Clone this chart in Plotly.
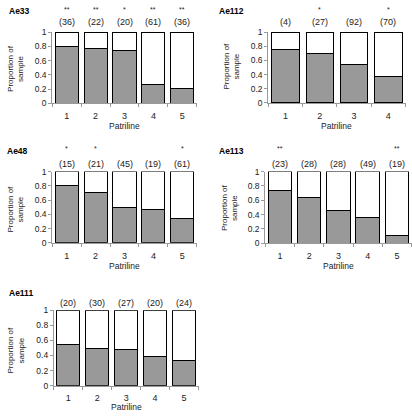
import plotly.graph_objects as go

W, H = 412, 417

# ---- data ----
titles = ["Ae33", "Ae112", "Ae48", "Ae113", "Ae111"]
ae33_vals = [0.80, 0.77, 0.74, 0.27, 0.21]
ae33_n = [36, 22, 20, 61, 36]
ae33_sig = ["**", "**", "*", "**", "**"]
ae112_vals = [0.75, 0.70, 0.54, 0.37]
ae112_n = [4, 27, 92, 70]
ae112_sig = ["", "*", "", "*"]
ae48_vals = [0.80, 0.71, 0.49, 0.47, 0.34]
ae48_n = [15, 21, 45, 19, 61]
ae48_sig = ["*", "*", "", "", "*"]
ae113_vals = [0.73, 0.64, 0.46, 0.36, 0.10]
ae113_n = [23, 28, 28, 49, 19]
ae113_sig = ["**", "", "", "", "**"]
ae111_vals = [0.54, 0.49, 0.48, 0.39, 0.33]
ae111_n = [20, 30, 27, 20, 24]
ae111_sig = ["", "", "", "", ""]

values = [ae33_vals, ae112_vals, ae48_vals, ae113_vals, ae111_vals]
counts = [ae33_n, ae112_n, ae48_n, ae113_n, ae111_n]
sigs = [ae33_sig, ae112_sig, ae48_sig, ae113_sig, ae111_sig]

# ---- layout geometry (pixels) ----
panels = [
    dict(x0=52.3, x1=196.7, yb=100.7, yt=27.7, tx=6.5, ty=6, ytx=15.5, yty=65, ny=17.3, sy=5, py=124),
    dict(x0=268.3, x1=405.5, yb=100.3, yt=27.7, tx=216.5, ty=6, ytx=231, yty=63, ny=17.3, sy=5, py=124),
    dict(x0=52.3, x1=196.7, yb=243.7, yt=170.7, tx=4.5, ty=150, ytx=15.5, yty=209, ny=162.7, sy=147.5, py=267.5),
    dict(x0=265.3, x1=411.5, yb=244, yt=170.7, tx=216.5, ty=150, ytx=229, yty=208, ny=162.7, sy=147.5, py=267.5),
    dict(x0=53.9, x1=198.5, yb=390, yt=312.7, tx=6.5, ty=295, ytx=16, yty=353, ny=305, sy=None, py=412),
]

GRAY = "#999999"
AXIS = "#9a9a9a"
FONT = "Liberation Sans, Arial, sans-serif"

def fx(p):
    return p / W

def fy(p):
    return 1 - p / H

fig = go.Figure()
annotations = []
layout = {}

for i, (t, v, n, s, g) in enumerate(zip(titles, values, counts, sigs, panels)):
    k = "" if i == 0 else str(i + 1)
    xa, ya = "x" + k, "y" + k
    cats = list(range(1, len(v) + 1))
    rest = [1 - a for a in v]
    fig.add_trace(go.Bar(x=cats, y=v, xaxis=xa, yaxis=ya, width=0.8,
                         marker=dict(color=GRAY, line=dict(color="black", width=1)),
                         cliponaxis=False, hoverinfo="skip"))
    fig.add_trace(go.Bar(x=cats, y=rest, xaxis=xa, yaxis=ya, width=0.8,
                         marker=dict(color="white", line=dict(color="black", width=1)),
                         cliponaxis=False, hoverinfo="skip"))
    layout["xaxis" + k] = dict(
        domain=[fx(g["x0"]), fx(g["x1"])], anchor=ya, range=[0.5, len(v) + 0.5],
        tickvals=cats, ticktext=[str(c) for c in cats], ticks="outside", ticklen=4,
        tickcolor="rgba(0,0,0,0)", showline=True, linecolor=AXIS, linewidth=1,
        showgrid=False, zeroline=False, fixedrange=True,
        tickfont=dict(family=FONT, size=9, color="#222"),
        minor=dict(tickvals=[c + 0.5 for c in range(0, len(v) + 1)], ticks="outside",
                   ticklen=3, tickcolor=AXIS, tickwidth=1, showgrid=False),
    )
    layout["yaxis" + k] = dict(
        domain=[fy(g["yb"]), fy(g["yt"])], anchor=xa, range=[0, 1],
        tickvals=[0, 0.2, 0.4, 0.6, 0.8, 1], ticktext=["0", "0.2", "0.4", "0.6", "0.8", "1"],
        ticks="outside", ticklen=3, tickcolor=AXIS, showline=True, linecolor=AXIS,
        linewidth=1, showgrid=False, zeroline=False, fixedrange=True,
        tickfont=dict(family=FONT, size=8.5, color="#222"),
    )
    annotations.append(dict(text="<b>" + t + "</b>", xref="paper", yref="paper",
                            x=fx(g["tx"]), y=fy(g["ty"]), xanchor="left", yanchor="middle",
                            showarrow=False, font=dict(family=FONT, size=8.5, color="black")))
    annotations.append(dict(text="Proportion of<br>sample", xref="paper", yref="paper",
                            x=fx(g["ytx"]), y=fy(g["yty"]), xanchor="center", yanchor="middle",
                            textangle=-90, showarrow=False,
                            font=dict(family=FONT, size=8, color="#222")))
    annotations.append(dict(text="Patriline", xref="paper", yref="paper",
                            x=fx((g["x0"] + g["x1"]) / 2), y=fy(g["py"]), xanchor="center",
                            yanchor="middle", showarrow=False,
                            font=dict(family=FONT, size=8.5, color="#222")))
    for c, nn, ss in zip(cats, n, s):
        annotations.append(dict(text="(%d)" % nn, xref=xa, yref="paper", x=c, y=fy(g["ny"]),
                                xanchor="center", yanchor="middle", showarrow=False,
                                font=dict(family=FONT, size=9, color="#222")))
        if ss and g["sy"] is not None:
            annotations.append(dict(text=ss, xref=xa, yref="paper", x=c, y=fy(g["sy"]),
                                    xanchor="center", yanchor="middle", showarrow=False,
                                    font=dict(family=FONT, size=7, color="#222")))

fig.update_layout(
    width=W, height=H, margin=dict(l=0, r=0, t=0, b=0),
    paper_bgcolor="white", plot_bgcolor="white", barmode="stack",
    showlegend=False, annotations=annotations, **layout,
)

fig.write_html("out.html", config={"displayModeBar": False},
               post_script="document.body.style.margin='0';document.body.style.padding='0';document.body.style.overflow='hidden';")
